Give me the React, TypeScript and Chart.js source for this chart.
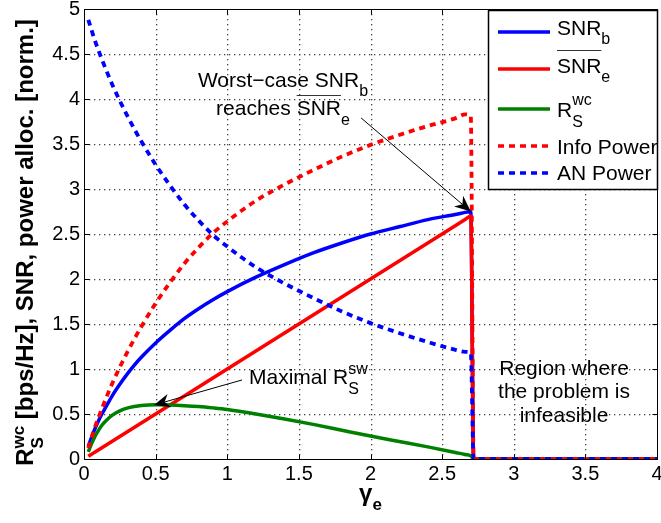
import React, { useEffect, useRef } from 'react';
import { Chart, registerables } from 'chart.js';

Chart.register(...registerables);

// ---------- data ----------
const gammaE = [0.03, 0.05, 0.075, 0.1, 0.125, 0.15, 0.2, 0.25, 0.3, 0.35, 0.4, 0.5, 0.6, 0.7, 0.8, 0.9, 1.0, 1.2, 1.4, 1.6, 1.8, 2.0, 2.2, 2.4, 2.6, 2.66, 2.7, 2.72, 4.0];
const snrB = [0.14, 0.23, 0.33, 0.42, 0.50, 0.57, 0.71, 0.83, 0.94, 1.04, 1.13, 1.29, 1.43, 1.56, 1.67, 1.77, 1.86, 2.02, 2.16, 2.29, 2.40, 2.50, 2.58, 2.66, 2.72, 2.74, 2.75, 0, 0];
const snrEbar = [0.03, 0.05, 0.075, 0.1, 0.125, 0.15, 0.2, 0.25, 0.3, 0.35, 0.4, 0.5, 0.6, 0.7, 0.8, 0.9, 1.0, 1.2, 1.4, 1.6, 1.8, 2.0, 2.2, 2.4, 2.6, 2.66, 2.7, 0, 0];
const rsWc = [0.08, 0.16, 0.245, 0.315, 0.375, 0.42, 0.49, 0.535, 0.565, 0.583, 0.595, 0.603, 0.60, 0.593, 0.583, 0.568, 0.55, 0.50, 0.445, 0.385, 0.32, 0.255, 0.195, 0.135, 0.07, 0.05, 0.035, 0, 0];
const infoPower = [0.12, 0.22, 0.345, 0.455, 0.56, 0.66, 0.85, 1.02, 1.18, 1.33, 1.47, 1.73, 1.96, 2.17, 2.35, 2.51, 2.64, 2.87, 3.05, 3.21, 3.36, 3.49, 3.60, 3.70, 3.79, 3.83, 3.81, 0, 0];
const anPower = [4.88, 4.78, 4.655, 4.545, 4.44, 4.34, 4.15, 3.98, 3.82, 3.67, 3.53, 3.27, 3.04, 2.83, 2.65, 2.49, 2.36, 2.13, 1.95, 1.79, 1.64, 1.51, 1.40, 1.30, 1.21, 1.19, 1.18, 0, 0];

const xTickLabels = ['0', '0.5', '1', '1.5', '2', '2.5', '3', '3.5', '4'];
const yTickLabels = ['0', '0.5', '1', '1.5', '2', '2.5', '3', '3.5', '4', '4.5', '5'];

// annotation anchors in data coordinates
const arrowWorst = { from: [1.934, 3.79], to: [2.70, 2.75] };
const arrowMax = { from: [1.103, 0.878], to: [0.489, 0.60] };
const worstText = { x: 1.389, y1: 4.137, y2: 3.822 };
const maxText = { x: 1.152, y: 0.833 };
const regionText = { x: 3.351, ys: [0.933, 0.678, 0.411], lines: ['Region where', 'the problem is', 'infeasible'] };

const FONT = '"Liberation Sans", Arial, Helvetica, sans-serif';
const BLUE = '#0000ff';
const RED = '#ff0000';
const GREEN = '#008000';
const DOT = [6, 5];

type Seg = { t: string; size: number; dy?: number; bold?: boolean; over?: number; stack?: boolean };

const fontOf = (s: Seg) => `${s.bold ? 'bold ' : ''}${s.size}px ${FONT}`;

function drawRich(ctx: CanvasRenderingContext2D, x: number, y: number, segs: Seg[], align: 'left' | 'center' = 'left') {
  let cursor = 0;
  let prevStart = 0;
  const xs: number[] = [];
  const ws: number[] = [];
  segs.forEach((s) => {
    ctx.font = fontOf(s);
    const w = ctx.measureText(s.t).width;
    const start = s.stack ? prevStart : cursor;
    xs.push(start);
    ws.push(w);
    cursor = Math.max(cursor, start + w);
    prevStart = start;
  });
  const x0 = align === 'center' ? x - cursor / 2 : x;
  ctx.textAlign = 'left';
  ctx.textBaseline = 'alphabetic';
  ctx.fillStyle = '#000';
  segs.forEach((s, i) => {
    ctx.font = fontOf(s);
    ctx.fillText(s.t, x0 + xs[i], y + (s.dy || 0));
    if (s.over) {
      ctx.save();
      ctx.strokeStyle = '#333';
      ctx.lineWidth = 1;
      ctx.setLineDash([]);
      const oy = Math.round(y - s.over) + 0.5;
      ctx.beginPath();
      ctx.moveTo(x0 + xs[i], oy);
      ctx.lineTo(x0 + xs[i] + ws[i], oy);
      ctx.stroke();
      ctx.restore();
    }
  });
}

function drawArrow(ctx: CanvasRenderingContext2D, x1: number, y1: number, x2: number, y2: number) {
  const ang = Math.atan2(y2 - y1, x2 - x1);
  const L = 16, W = 7, N = 11;
  const ca = Math.cos(ang), sa = Math.sin(ang);
  ctx.save();
  ctx.strokeStyle = '#000';
  ctx.fillStyle = '#000';
  ctx.lineWidth = 1;
  ctx.setLineDash([]);
  ctx.beginPath();
  ctx.moveTo(x1, y1);
  ctx.lineTo(x2 - ca * N, y2 - sa * N);
  ctx.stroke();
  ctx.beginPath();
  ctx.moveTo(x2, y2);
  ctx.lineTo(x2 - ca * L - sa * W, y2 - sa * L + ca * W);
  ctx.lineTo(x2 - ca * N, y2 - sa * N);
  ctx.lineTo(x2 - ca * L + sa * W, y2 - sa * L - ca * W);
  ctx.closePath();
  ctx.fill();
  ctx.restore();
}

const legendItems = [
  { segs: [{ t: 'SNR', size: 21 }, { t: 'b', size: 16, dy: 9 }] as Seg[], color: BLUE, dash: [] as number[], lineY: 32, baseY: 35 },
  { segs: [{ t: 'SNR', size: 21, over: 23 }, { t: 'e', size: 16, dy: 9 }] as Seg[], color: RED, dash: [], lineY: 69, baseY: 73 },
  { segs: [{ t: 'R', size: 21 }, { t: 'S', size: 16, dy: 9.5 }, { t: 'wc', size: 16, dy: -12, stack: true }] as Seg[], color: GREEN, dash: [], lineY: 109, baseY: 117 },
  { segs: [{ t: 'Info Power', size: 21 }] as Seg[], color: RED, dash: DOT, lineY: 146, baseY: 154 },
  { segs: [{ t: 'AN Power', size: 21 }] as Seg[], color: BLUE, dash: DOT, lineY: 173, baseY: 180 },
];

function drawDotGrid(chart: any) {
  const { ctx, chartArea: a, scales } = chart;
  ctx.save();
  ctx.fillStyle = '#444';
  const top = Math.round(a.top), bottom = Math.round(a.bottom);
  const left = Math.round(a.left), right = Math.round(a.right);
  for (let i = 1; i < xTickLabels.length - 1; i++) {
    const x = Math.round(scales.x.getPixelForValue(i * 0.5));
    for (let y = bottom - 5; y > top + 1; y -= 5) ctx.fillRect(x, y, 1.3, 1.3);
  }
  for (let j = 1; j < yTickLabels.length - 1; j++) {
    const y = Math.round(scales.y.getPixelForValue(j * 0.5));
    for (let x = left + 5; x < right - 1; x += 5) ctx.fillRect(x, y, 1.3, 1.3);
  }
  ctx.restore();
}

const overlay = {
  id: 'overlay',
  beforeDatasetsDraw(chart: any) {
    drawDotGrid(chart);
  },
  afterDatasetsDraw(chart: any) {
    const { ctx, chartArea: a, scales } = chart;
    const xs = scales.x;
    const ys = scales.y;
    const px = (v: number) => xs.getPixelForValue(v);
    const py = (v: number) => ys.getPixelForValue(v);
    ctx.save();
    ctx.setLineDash([]);

    // box
    const L = Math.round(a.left) + 0.5, R = Math.round(a.right) + 0.5;
    const T = Math.round(a.top) + 0.5, B = Math.round(a.bottom) + 0.5;
    ctx.strokeStyle = '#000';
    ctx.lineWidth = 1;
    ctx.strokeRect(L, T, R - L, B - T);

    // inward ticks on all sides
    const tl = 5;
    ctx.beginPath();
    xTickLabels.forEach((_, i) => {
      const xv = Math.round(px(i * 0.5)) + 0.5;
      ctx.moveTo(xv, B); ctx.lineTo(xv, B - tl);
      ctx.moveTo(xv, T); ctx.lineTo(xv, T + tl);
    });
    yTickLabels.forEach((_, i) => {
      const yv = Math.round(py(i * 0.5)) + 0.5;
      ctx.moveTo(L, yv); ctx.lineTo(L + tl, yv);
      ctx.moveTo(R, yv); ctx.lineTo(R - tl, yv);
    });
    ctx.stroke();

    // annotations
    drawArrow(ctx, px(arrowWorst.from[0]), py(arrowWorst.from[1]), px(arrowWorst.to[0]), py(arrowWorst.to[1]));
    drawArrow(ctx, px(arrowMax.from[0]), py(arrowMax.from[1]), px(arrowMax.to[0]), py(arrowMax.to[1]));

    drawRich(ctx, px(worstText.x), py(worstText.y1), [{ t: 'Worst\u2212case SNR', size: 21 }, { t: 'b', size: 16, dy: 9.5 }], 'center');
    drawRich(ctx, px(worstText.x), py(worstText.y2), [{ t: 'reaches ', size: 21 }, { t: 'SNR', size: 21, over: 20 }, { t: 'e', size: 16, dy: 9.5 }], 'center');
    drawRich(ctx, px(maxText.x), py(maxText.y), [{ t: 'Maximal R', size: 21 }, { t: 'S', size: 16, dy: 10 }, { t: 'sw', size: 16, dy: -10, stack: true }], 'left');
    regionText.lines.forEach((ln, i) => {
      drawRich(ctx, px(regionText.x), py(regionText.ys[i]), [{ t: ln, size: 21 }], 'center');
    });

    // legend
    const lx1 = 488, lx2 = Math.round(a.right), ly1 = Math.round(a.top) + 1, ly2 = 189;
    ctx.fillStyle = '#fff';
    ctx.fillRect(lx1, ly1, lx2 - lx1, ly2 - ly1);
    ctx.strokeStyle = '#000';
    ctx.lineWidth = 1.5;
    ctx.strokeRect(lx1 + 0.5, ly1 + 0.5, lx2 - lx1, ly2 - ly1);
    legendItems.forEach((it) => {
      ctx.save();
      ctx.strokeStyle = it.color;
      ctx.lineWidth = 3.5;
      ctx.setLineDash(it.dash);
      ctx.beginPath();
      ctx.moveTo(498, it.lineY);
      ctx.lineTo(550, it.lineY);
      ctx.stroke();
      ctx.restore();
      drawRich(ctx, 557, it.baseY, it.segs, 'left');
    });

    // axis titles
    ctx.save();
    ctx.translate(33, 242.5);
    ctx.rotate(-Math.PI / 2);
    drawRich(ctx, 0, 0, [
      { t: 'R', size: 24, bold: true },
      { t: 'S', size: 17, bold: true, dy: 10 },
      { t: 'wc', size: 17, bold: true, dy: -9, stack: true },
      { t: ' [bps/Hz], SNR, power alloc. [norm.]', size: 24, bold: true },
    ], 'center');
    ctx.restore();

    drawRich(ctx, (a.left + a.right) / 2, 501, [
      { t: '\u03b3', size: 24, bold: true },
      { t: 'e', size: 17, bold: true, dy: 9 },
    ], 'center');

    ctx.restore();
  },
};

const pts = (ys: number[]) => gammaE.map((x, i) => ({ x, y: ys[i] }));

export default function App() {
  const ref = useRef<HTMLCanvasElement | null>(null);
  useEffect(() => {
    if (!ref.current) return;
    const common = { pointRadius: 0, cubicInterpolationMode: 'monotone' as const, fill: false };
    const chart = new Chart(ref.current, {
      type: 'line',
      data: {
        datasets: [
          { label: 'SNR_b', data: pts(snrB), borderColor: BLUE, borderWidth: 3.5, order: 4, ...common },
          { label: 'SNR_e', data: pts(snrEbar), borderColor: RED, borderWidth: 3.5, order: 3, ...common },
          { label: 'R_S^wc', data: pts(rsWc), borderColor: GREEN, borderWidth: 3.5, order: 2, ...common },
          { label: 'Info Power', data: pts(infoPower), borderColor: RED, borderWidth: 3.8, borderDash: DOT, order: 1, ...common },
          { label: 'AN Power', data: pts(anPower), borderColor: BLUE, borderWidth: 3.8, borderDash: DOT, order: 0, ...common },
        ],
      },
      options: {
        animation: false,
        responsive: false,
        devicePixelRatio: 1,
        events: [],
        layout: { padding: { top: 9, right: 4, left: 0, bottom: 0 } },
        plugins: { legend: { display: false }, tooltip: { enabled: false }, title: { display: false } },
        scales: {
          x: {
            type: 'linear',
            min: 0,
            max: 4,
            ticks: {
              stepSize: 0.5,
              autoSkip: false,
              maxRotation: 0,
              padding: 3,
              color: '#000',
              font: { family: FONT, size: 20 },
              callback: (_v: any, i: number) => xTickLabels[i],
            },
            grid: { display: false, drawTicks: false },
            border: { display: false },
            afterFit: (s: any) => { s.height = 64; s.paddingLeft = 0; s.paddingRight = 0; },
          },
          y: {
            type: 'linear',
            min: 0,
            max: 5,
            ticks: {
              stepSize: 0.5,
              autoSkip: false,
              padding: 4,
              color: '#000',
              font: { family: FONT, size: 20 },
              callback: (_v: any, i: number) => yTickLabels[i],
            },
            grid: { display: false, drawTicks: false },
            border: { display: false },
            afterFit: (s: any) => { s.width = 84; s.paddingTop = 0; s.paddingBottom = 0; },
          },
        },
      } as any,
      plugins: [overlay],
    });
    return () => chart.destroy();
  }, []);
  return (
    <div style={{ position: 'fixed', left: 0, top: 0, width: 661, height: 523, background: '#fff' }}>
      <canvas ref={ref} width={661} height={523} style={{ display: 'block', width: 661, height: 523 }} />
    </div>
  );
}
